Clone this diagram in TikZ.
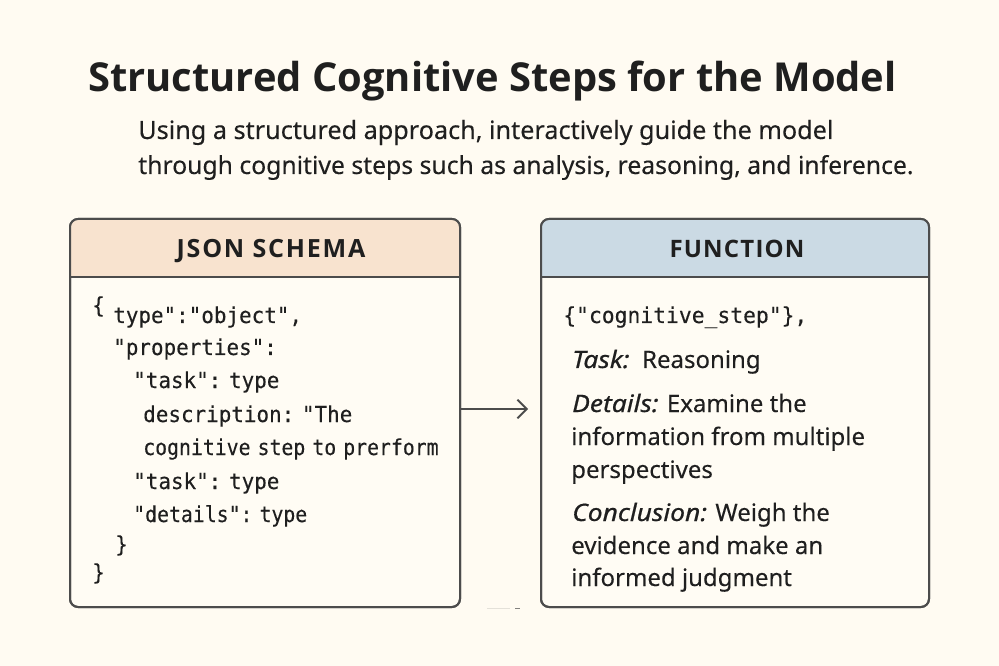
\documentclass[tikz,border=0pt]{standalone}
\usepackage{fontspec}
\usetikzlibrary{arrows.meta}
\setmainfont[FakeBold=0.2]{Noto Sans}
\newfontfamily\monofam[FakeStretch=0.95,FakeBold=0.2]{DejaVu Sans Mono}
\newfontfamily\monoslim[FakeStretch=0.9,FakeBold=0.2]{DejaVu Sans Mono}
\newfontfamily\monowide[FakeStretch=0.97,FakeBold=0.2]{DejaVu Sans Mono}
\newfontfamily\titlefam{Open Sans}
\newfontfamily\headfam[LetterSpace=5]{Open Sans}
\newfontfamily\headwide[LetterSpace=7]{Open Sans}
\newfontfamily\italfam[FakeStretch=1.1,FakeBold=0.6]{Noto Sans}
\newcommand{\lab}[1]{{\italfam\itshape #1}}
\newcommand{\ns}{\kern-.22em\ }
\definecolor{pagebg}{HTML}{FFFBF2}
\definecolor{boxbg}{HTML}{FFFCF4}
\definecolor{headA}{HTML}{F8E3CF}
\definecolor{headB}{HTML}{CBDAE4}
\definecolor{edge}{HTML}{4C4C4C}
\definecolor{ink}{HTML}{1F1F1F}
\tikzset{
  x=0.75pt,y=-0.75pt,
  panel/.style={draw=edge,line width=1.5pt,rounded corners=6pt,minimum height=291pt,inner sep=0pt,fill=boxbg},
  panelL/.style={panel,minimum width=292.5pt},
  panelR/.style={panel,minimum width=291pt},
  headfill/.style={rounded corners=6pt},
  rulel/.style={draw=edge,line width=1.5pt},
  headtext/.style={anchor=base,text=ink,inner sep=0pt,font=\headfam\fontsize{18}{22}\selectfont\bfseries},
  headtextwide/.style={anchor=base,text=ink,inner sep=0pt,font=\headwide\fontsize{18.8}{22}\selectfont\bfseries},
  title/.style={anchor=base west,text=ink,inner sep=0pt,font=\titlefam\fontsize{29.9}{34}\selectfont\bfseries},
  subA/.style={anchor=base west,text=ink,inner sep=0pt,font=\fontsize{18.9}{22}\selectfont},
  subB/.style={anchor=base west,text=ink,inner sep=0pt,font=\fontsize{18.55}{22}\selectfont},
  code/.style={anchor=base west,text=ink,inner sep=0pt,font=\monofam\fontsize{16.5}{18}\selectfont},
  codeslim/.style={anchor=base west,text=ink,inner sep=0pt,font=\monoslim\fontsize{16.5}{18}\selectfont},
  codewide/.style={anchor=base west,text=ink,inner sep=0pt,font=\monowide\fontsize{16.5}{18}\selectfont},
  body/.style={anchor=base west,text=ink,inner sep=0pt,font=\fontsize{18}{22}\selectfont},
  flow/.style={draw=edge,line width=1.5pt,-{Straight Barb[length=7pt,width=14pt,line width=1.4pt]}},
}
\begin{document}
\begin{tikzpicture}
\useasboundingbox (0,0) rectangle (999,666);
\fill[pagebg] (0,0) rectangle (999,666);
\node[title] (t) at (88,92) {Structured Cognitive Steps for the Model};
\node[subA] (s1) at (138,139) {Using a structured approach, interactively guide the model};
\node[subB] (s2) at (138,174) {through cognitive steps such as analysis, reasoning, and inference.};
% left panel
\node[panelL] (L) at (265,413) {};
\fill[headA,headfill] (70,277) |- (460,219) |- cycle;
\fill[headA] (70,250) rectangle (460,277);
\node[panelL,fill=none] (Lo) at (265,413) {};
\draw[rulel] (70,277.5) -- (460,277.5);
\node[headtextwide] (Lh) at (271,258) {JSON SCHEMA};
\node[code] (a0) at (92,313) {\{};
\node[code] (a1) at (113,323) {type":"object",};
\node[code] (a2) at (113,355) {"properties":};
\node[code] (a3) at (133,388) {"task":\ns type};
\node[code] (a4) at (143,422) {description:\ns"The};
\node[codeslim] (a5) at (143,455) {cognitive\ns step\ns to\ns prerform};
\node[code] (a6) at (133,489) {"task":\ns type};
\node[codeslim] (a7) at (133,522) {"details":\ns type};
\node[code] (a8) at (115,552) {\}};
\node[code] (a9) at (92,580) {\}};
% right panel
\node[panelR] (R) at (735,413) {};
\fill[headB,headfill] (541,277) |- (929,219) |- cycle;
\fill[headB] (541,250) rectangle (929,277);
\node[panelR,fill=none] (Ro) at (735,413) {};
\draw[rulel] (541,277.5) -- (929,277.5);
\node[headtext] (Rh) at (737,258) {FUNCTION};
\node[codewide] (b0) at (563,323) {\{"cognitive\_step"\},};
\node[body] (b1) at (572,368) {\lab{Task:}\ \ Reasoning};
\node[body] (b2) at (572,412) {\lab{Details:} Examine the};
\node[body] (b3) at (571,445) {information from multiple};
\node[body] (b4) at (571,478) {perspectives};
\node[body] (b5) at (572,521) {\lab{Conclusion:} Weigh the};
\node[body] (b6) at (571,554) {evidence and make an};
\node[body] (b7) at (571,586) {informed judgment};
% connector
\coordinate (tip) at (528,409);
\draw[flow] (L.east |- tip) -- (tip);
% faint marks under the arrow
\fill[edge!15!pagebg] (487,607.5) rectangle (510,609);
\fill[edge!70!pagebg] (515,607.5) rectangle (520,609);
\end{tikzpicture}
\end{document}
